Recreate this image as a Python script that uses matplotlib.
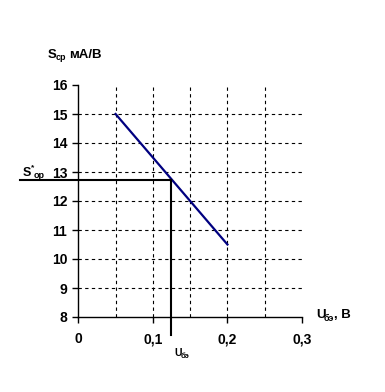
import matplotlib.pyplot as plt

plt.rcParams['font.family'] = ['Liberation Sans', 'DejaVu Sans']

# данные графика
u_be = [0.05, 0.1, 0.15, 0.2]
s_cp = [15.0, 13.5, 12.0, 10.5]
u_op = 0.124
s_op = 12.73
x_ticks = [0, 0.1, 0.2, 0.3]
x_labels = ['0', '0,1', '0,2', '0,3']
y_ticks = [8, 9, 10, 11, 12, 13, 14, 15, 16]

W, H = 385, 392
fig = plt.figure(figsize=(W / 100, H / 100), dpi=100)
ax = fig.add_axes([78.3 / W, 1 - 317 / H, (302 - 78.3) / W, (317 - 85) / H])
ax.set_xlim(0, 0.3)
ax.set_ylim(8, 16)

# сетка пунктиром
for x in [0.05, 0.1, 0.15, 0.2, 0.25]:
    ax.plot([x, x], [8, 16], color='black', lw=0.8, ls=(0, (3, 3)))
for y in y_ticks[1:-1]:
    ax.plot([0, 0.3], [y, y], color='black', lw=0.8, ls=(0, (3, 3)))

# характеристика
ax.plot(u_be, s_cp, color='#000080', lw=1.6)

# рабочая точка
ax.plot([-0.078, u_op], [s_op, s_op], color='black', lw=1.5, clip_on=False)
ax.plot([u_op, u_op], [s_op, 7.38], color='black', lw=1.5, clip_on=False)

for s in ['top', 'right']:
    ax.spines[s].set_visible(False)
ax.spines['left'].set_linewidth(1.0)
ax.spines['bottom'].set_linewidth(1.0)

ax.set_xticks(x_ticks)
ax.set_xticklabels(x_labels, fontweight='bold', fontsize=10)
ax.set_yticks(y_ticks)
ax.set_yticklabels([str(v) for v in y_ticks], fontweight='bold', fontsize=10)
ax.tick_params(axis='x', length=4, pad=7, width=1)
ax.tick_params(axis='y', length=4, pad=4, width=1)


def px(x, y, s, size, **kw):
    fig.text(x / W, 1 - y / H, s, fontsize=size, fontweight='bold', va='baseline', **kw)


# подпись оси Y
px(48, 57.5, 'S', 9.5)
px(56, 60.5, 'ср', 6.5)
px(69, 57.5, 'мА/В', 9.5)

# S*ор
px(22.5, 175.5, 'S', 9)
px(31, 169, '*', 6)
px(34, 178, 'ор', 6.5)

# подпись оси X
px(316, 318.5, 'U', 9.5)
px(324, 321, 'бэ', 6.5)
px(334, 318.5, ', В', 9.5)

# Uбэ
px(174.5, 356, 'U', 7.5)
px(181, 358, 'бэ', 5.5)

fig.savefig('out.png', dpi=100)
